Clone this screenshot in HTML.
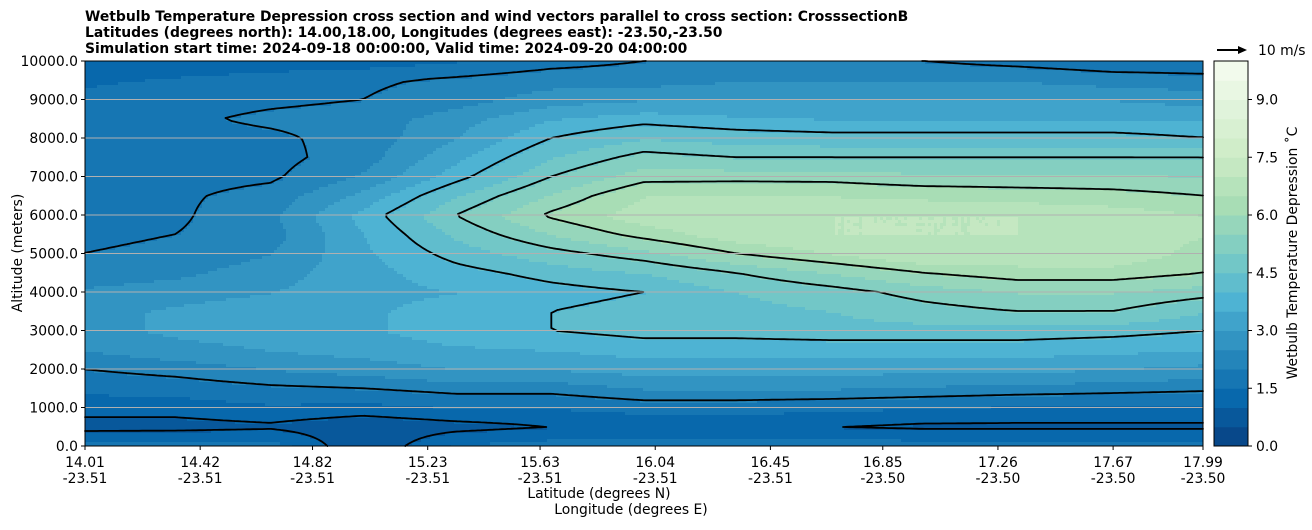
<!DOCTYPE html>
<html><head><meta charset="utf-8">
<style>
body{margin:0;background:#fff;font-family:"DejaVu Sans","Liberation Sans",sans-serif;}
svg text{font-family:"DejaVu Sans","Liberation Sans",sans-serif;}
</style></head>
<body>
<svg id="chart" width="1312" height="526" xmlns="http://www.w3.org/2000/svg">
  <g font-size="13.9" font-weight="bold" fill="#000">
    <text x="85" y="21">Wetbulb Temperature Depression cross section and wind vectors parallel to cross section: CrosssectionB</text>
    <text x="85" y="37">Latitudes (degrees north): 14.00,18.00, Longitudes (degrees east): -23.50,-23.50</text>
    <text x="85" y="53">Simulation start time: 2024-09-18 00:00:00, Valid time: 2024-09-20 04:00:00</text>
  </g>
  <g id="fill"></g>
  <g id="contours"></g>
  <g id="grid"></g>
  <rect x="85" y="61" width="1118" height="385" fill="none" stroke="#000" stroke-width="1"/>
  <g id="yaxis" font-size="13.9"></g>
  <g id="xaxis" font-size="13.9"></g>
  <text transform="translate(22,253) rotate(-90)" text-anchor="middle" font-size="13.9">Altitude (meters)</text>
  <text x="599" y="498" text-anchor="middle" font-size="13.9">Latitude (degrees N)</text>
  <text x="631" y="514" text-anchor="middle" font-size="13.9">Longitude (degrees E)</text>
  <g id="cbar" font-size="13.9"></g>
  <text transform="translate(1297,253) rotate(-90)" text-anchor="middle" font-size="13.9">Wetbulb Temperature Depression ˚C</text>
  <g>
    <line x1="1217" y1="50" x2="1240" y2="50" stroke="#000" stroke-width="2"/>
    <polygon points="1247,50 1238,46 1238,54" fill="#000"/>
    <text x="1258" y="55" font-size="13.9">10 m/s</text>
  </g>
</svg>
<script>
const lats=[14.0,14.33,14.67,15.0,15.33,15.67,16.0,16.33,16.67,17.0,17.33,17.67,18.0];
const alts=[10000,9500,9000,8500,8000,7500,7000,6500,6000,5500,5000,4500,4000,3500,3000,2500,2000,1500,1000,500,0];
const r10000=[1.0,1.1,1.2,1.3,1.5,1.8,2.0,2.0,2.0,2.0,1.8,1.6,1.6];
const r9500=[1.4,1.6,1.8,1.9,2.1,2.3,2.3,2.5,2.5,2.5,2.5,2.3,2.2];
const r9000=[1.7,1.8,1.9,2.0,2.3,2.8,3.0,3.0,3.0,3.0,3.0,3.0,2.8];
const r8500=[1.8,1.9,2.1,2.2,2.8,3.5,3.8,3.6,3.5,3.5,3.5,3.5,3.5];
const r8000=[1.8,1.8,1.9,2.2,3.0,4.0,4.5,4.3,4.2,4.2,4.2,4.2,4.0];
const r7500=[1.7,1.7,1.8,2.3,3.4,4.5,5.2,5.0,5.0,5.0,5.0,5.0,5.0];
const r7000=[1.8,1.8,1.9,2.6,3.8,5.0,5.8,5.8,5.8,5.6,5.6,5.6,5.5];
const r6500=[1.8,1.9,2.2,3.2,4.5,5.6,6.5,6.6,6.5,6.4,6.3,6.2,6.0];
const r6000=[1.8,1.9,2.4,3.7,5.0,6.1,6.8,6.9,7.0,7.0,7.0,6.8,6.5];
const r5500=[1.9,2.0,2.3,3.5,4.6,5.5,6.2,6.8,7.0,7.0,7.0,6.8,6.5];
const r5000=[2.0,2.1,2.5,3.4,4.2,4.8,5.3,6.0,6.5,7.0,6.8,6.8,6.3];
const r4500=[2.2,2.4,2.8,3.3,3.8,4.2,4.5,5.0,5.5,6.0,6.3,6.3,6.0];
const r4000=[2.6,2.8,3.0,3.3,3.5,3.8,4.0,4.5,4.8,5.2,5.5,5.5,5.2];
const r3500=[2.8,3.1,3.3,3.4,3.8,4.0,4.2,4.3,4.5,4.8,5.0,5.0,4.5];
const r3000=[2.8,3.1,3.3,3.4,3.8,4.0,4.2,4.2,4.3,4.3,4.3,4.2,4.0];
const r2500=[2.5,2.8,3.0,3.2,3.4,3.5,3.7,3.7,3.7,3.7,3.7,3.6,3.5];
const r2000=[2.0,2.2,2.5,2.7,3.0,3.0,3.2,3.2,3.2,3.1,3.1,3.0,2.8];
const r1500=[1.6,1.7,1.9,2.0,2.2,2.2,2.5,2.5,2.5,2.4,2.3,2.2,2.1];
const r1000=[1.2,1.2,1.4,1.3,1.5,1.5,1.7,1.7,1.6,1.5,1.4,1.4,1.4];
const r500=[0.8,0.8,0.9,0.6,0.8,1.0,1.0,1.0,1.0,0.9,0.9,0.9,0.9];
const r0=[1.7,1.8,1.8,0.5,1.6,1.8,1.9,1.9,1.9,1.8,1.8,1.8,1.8];
const field=[r10000,r9500,r9000,r8500,r8000,r7500,r7000,r6500,r6000,r5500,r5000,r4500,r4000,r3500,r3000,r2500,r2000,r1500,r1000,r500,r0];
const contourLevels=[1,2,4,5,6];
const xTickLats=["14.01","14.42","14.82","15.23","15.63","16.04","16.45","16.85","17.26","17.67","17.99"];
const xTickLons=["-23.51","-23.51","-23.51","-23.51","-23.51","-23.51","-23.51","-23.50","-23.50","-23.50","-23.50"];
const yTicks=[0,1000,2000,3000,4000,5000,6000,7000,8000,9000,10000];
const cbTicks=[0,1.5,3.0,4.5,6.0,7.5,9.0];

const NS="http://www.w3.org/2000/svg";
const X0=85,X1=1203,Y0=61,Y1=446,LAT0=14.01,LAT1=17.99;
const xs=lat=>X0+(lat-LAT0)/(LAT1-LAT0)*(X1-X0);
const ys=a=>Y1-a/10000*(Y1-Y0);
const stops=[[0,"#084081"],[.125,"#0868ac"],[.25,"#2b8cbe"],[.375,"#4eb3d3"],[.5,"#7bccc4"],[.625,"#a8ddb5"],[.75,"#ccebc5"],[.875,"#e0f3db"],[1,"#f7fcf0"]];
function hex(h){return [1,3,5].map(i=>parseInt(h.substr(i,2),16));}
function cmap(t){t=Math.max(0,Math.min(1,t));for(let i=1;i<stops.length;i++){if(t<=stops[i][0]){const a=stops[i-1],b=stops[i];const f=(t-a[0])/(b[0]-a[0]);const ca=hex(a[1]),cb=hex(b[1]);return "rgb("+ca.map((c,k)=>Math.round(c+(cb[k]-c)*f)).join(",")+")";}}return stops[8][1];}
function band(v){return Math.max(0,Math.min(19,Math.floor(v/0.5)));}
function bandColor(b){return cmap((b+0.5)/20);}
function mk(tag,attrs,parent){const e=document.createElementNS(NS,tag);for(const k in attrs)e.setAttribute(k,attrs[k]);parent.appendChild(e);return e;}
function sample(px,py){
  const lat=LAT0+(px-X0)/(X1-X0)*(LAT1-LAT0);
  const alt=(Y1-py)/(Y1-Y0)*10000;
  let i=0;while(i<lats.length-2&&lat>lats[i+1])i++;
  let fx=(lat-lats[i])/(lats[i+1]-lats[i]);fx=Math.max(0,Math.min(1,fx));
  let r=Math.floor((10000-alt)/500);r=Math.max(0,Math.min(alts.length-2,r));
  let fy=(alts[r]-alt)/500;fy=Math.max(0,Math.min(1,fy));
  const a=field[r][i],b=field[r][i+1],c=field[r+1][i],d=field[r+1][i+1];
  return a*(1-fx)*(1-fy)+b*fx*(1-fy)+c*(1-fx)*fy+d*fx*fy;
}
const STEP=3;
const fillG=document.getElementById('fill');
const nx=Math.ceil((X1-X0)/STEP),ny=Math.ceil((Y1-Y0)/STEP);
const S=[];
for(let j=0;j<=ny;j++){S.push([]);for(let i=0;i<=nx;i++)S[j].push(sample(Math.min(X1,X0+i*STEP),Math.min(Y1,Y0+j*STEP)));}
for(let j=0;j<ny;j++){
  let start=0,cur=band(S[j][0]);
  for(let i=1;i<=nx;i++){
    const b=i<nx?band(S[j][i]):-1;
    if(b!==cur){
      const r=mk('rect',{x:X0+start*STEP,y:Y0+j*STEP,width:Math.min((i-start)*STEP,X1-(X0+start*STEP))+0.5,height:Math.min(STEP,Y1-(Y0+j*STEP))+0.5,fill:bandColor(cur)},fillG);
      
      
      start=i;cur=b;
    }
  }
}
const cG=document.getElementById('contours');
contourLevels.forEach(L=>{
  let d="";
  const P=(i,j)=>[Math.min(X1,X0+i*STEP),Math.min(Y1,Y0+j*STEP)];
  const lerp=(p,q,va,vb)=>{const t=(L-va)/(vb-va);return [p[0]+(q[0]-p[0])*t,p[1]+(q[1]-p[1])*t];};
  for(let j=0;j<ny;j++)for(let i=0;i<nx;i++){
    const v=[S[j][i],S[j][i+1],S[j+1][i+1],S[j+1][i]];
    const p=[P(i,j),P(i+1,j),P(i+1,j+1),P(i,j+1)];
    const pts=[];
    for(let e=0;e<4;e++){const a=e,b=(e+1)%4;if((v[a]<L)!==(v[b]<L))pts.push(lerp(p[a],p[b],v[a],v[b]));}
    for(let k=0;k+1<pts.length;k+=2)d+="M"+pts[k][0].toFixed(1)+","+pts[k][1].toFixed(1)+"L"+pts[k+1][0].toFixed(1)+","+pts[k+1][1].toFixed(1);
  }
  const path=mk('path',{d:d,stroke:"#000","stroke-width":1.8,fill:"none","stroke-linecap":"round"},cG);
  
  
});
const gG=document.getElementById('grid'),yG=document.getElementById('yaxis');
yTicks.forEach(t=>{
  const y=ys(t);
  if(t>0&&t<10000){const l=mk('line',{x1:X0,x2:X1,y1:y,y2:y,stroke:"#b0b0b0","stroke-width":1},gG);}
  mk('line',{x1:X0-4,x2:X0,y1:y,y2:y,stroke:"#000"},yG);
  const tx=mk('text',{x:X0-7,y:y+5,"text-anchor":"end"},yG);tx.textContent=t.toFixed(1);
  
  
});
const xG=document.getElementById('xaxis');
xTickLats.forEach((t,k)=>{
  const x=xs(parseFloat(t));
  mk('line',{x1:x,x2:x,y1:Y1,y2:Y1+4,stroke:"#000"},xG);
  const a=mk('text',{x:x,y:Y1+21,"text-anchor":"middle"},xG);a.textContent=t;
  
  
  const b=mk('text',{x:x,y:Y1+37,"text-anchor":"middle"},xG);b.textContent=xTickLons[k];
  
  
});
const cb=document.getElementById('cbar');
const CX=1214,CW=34;
const cy=v=>Y1-v/10*(Y1-Y0);
for(let b=0;b<20;b++){const r=mk('rect',{x:CX,y:cy((b+1)*0.5),width:CW,height:(Y1-Y0)/20+0.5,fill:bandColor(b)},cb);}
mk('rect',{x:CX,y:Y0,width:CW,height:Y1-Y0,fill:"none",stroke:"#000"},cb);
cbTicks.forEach(t=>{const y=cy(t);mk('line',{x1:CX+CW,x2:CX+CW+4,y1:y,y2:y,stroke:"#000"},cb);const tx=mk('text',{x:CX+CW+8,y:y+5},cb);tx.textContent=t.toFixed(1);});
</script>
</body></html>
